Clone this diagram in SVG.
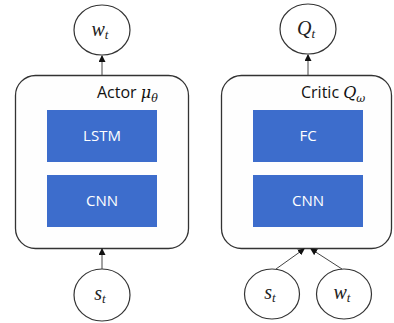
<svg xmlns="http://www.w3.org/2000/svg" width="394" height="323" viewBox="0 0 394 323">
<style>
.box{fill:#fefefe;stroke:#333;stroke-width:1.3}
.blk{fill:#3d6dcc}
.bt{fill:#fff;font-family:"Open Sans","Liberation Sans",sans-serif;font-size:15px;text-anchor:middle}
.lbl{fill:#111;font-family:"Open Sans","Liberation Sans",sans-serif;font-size:16px}
.m{font-family:"DejaVu Serif","Liberation Serif",serif;font-style:italic}
.circ{fill:#fff;stroke:#333;stroke-width:1.2}
.ct{fill:#222;font-family:"Liberation Serif","DejaVu Serif",serif;font-style:italic;font-size:20px;text-anchor:middle}
.con{stroke:#444;stroke-width:1;fill:none;marker-end:url(#ah)}
</style>
<defs>
<marker id="ah" markerWidth="7" markerHeight="7" refX="6" refY="3.5" orient="auto" markerUnits="userSpaceOnUse">
<path d="M0,0 L7,3.5 L0,7 z" fill="#111"/>
</marker>
</defs>
<rect width="394" height="323" fill="#fff"/>
<g id="actor">
<rect class="box" x="15.5" y="75.5" width="173" height="173" rx="20"/>
<text class="lbl" x="97" y="98">Actor <tspan class="m">μ</tspan><tspan class="m" font-size="11" dy="4">θ</tspan></text>
</g>
<g id="lstm">
<rect class="blk" x="47" y="110" width="110" height="52"/>
<text class="bt" x="102" y="141">LSTM</text>
</g>
<g id="cnn1">
<rect class="blk" x="47" y="175" width="110" height="52"/>
<text class="bt" x="102" y="206">CNN</text>
</g>
<g id="critic">
<rect class="box" x="221.5" y="75.5" width="170" height="173" rx="20"/>
<text class="lbl" x="301" y="98">Critic <tspan class="m">Q</tspan><tspan class="m" font-size="11" dy="4">ω</tspan></text>
</g>
<g id="fc">
<rect class="blk" x="253" y="110" width="110" height="52"/>
<text class="bt" x="308" y="141">FC</text>
</g>
<g id="cnn2">
<rect class="blk" x="253" y="175" width="110" height="52"/>
<text class="bt" x="308" y="206">CNN</text>
</g>
<g id="wt_out">
<ellipse class="circ" cx="102" cy="30" rx="28" ry="25"/>
<text class="ct" x="100" y="36">w<tspan font-size="13" dy="3">t</tspan></text>
</g>
<g id="qt_out">
<ellipse class="circ" cx="308" cy="29" rx="28" ry="25"/>
<text class="ct" x="306" y="35">Q<tspan font-size="13" dy="3">t</tspan></text>
</g>
<g id="st_actor">
<ellipse class="circ" cx="102" cy="295" rx="28" ry="26"/>
<text class="ct" x="100" y="300">s<tspan font-size="13" dy="3">t</tspan></text>
</g>
<g id="st_critic">
<ellipse class="circ" cx="272" cy="294" rx="27.5" ry="25"/>
<text class="ct" x="270" y="299">s<tspan font-size="13" dy="3">t</tspan></text>
</g>
<g id="wt_critic">
<ellipse class="circ" cx="344" cy="294" rx="27.5" ry="25"/>
<text class="ct" x="342" y="299">w<tspan font-size="13" dy="3">t</tspan></text>
</g>
<g id="connectors">
<line class="con" x1="102" y1="75" x2="102" y2="56"/>
<line class="con" x1="308" y1="75" x2="308" y2="55"/>
<line class="con" x1="102" y1="269" x2="102" y2="249"/>
<line class="con" x1="276" y1="269" x2="304" y2="249"/>
<line class="con" x1="342" y1="269" x2="311" y2="249"/>
</g>
</svg>
